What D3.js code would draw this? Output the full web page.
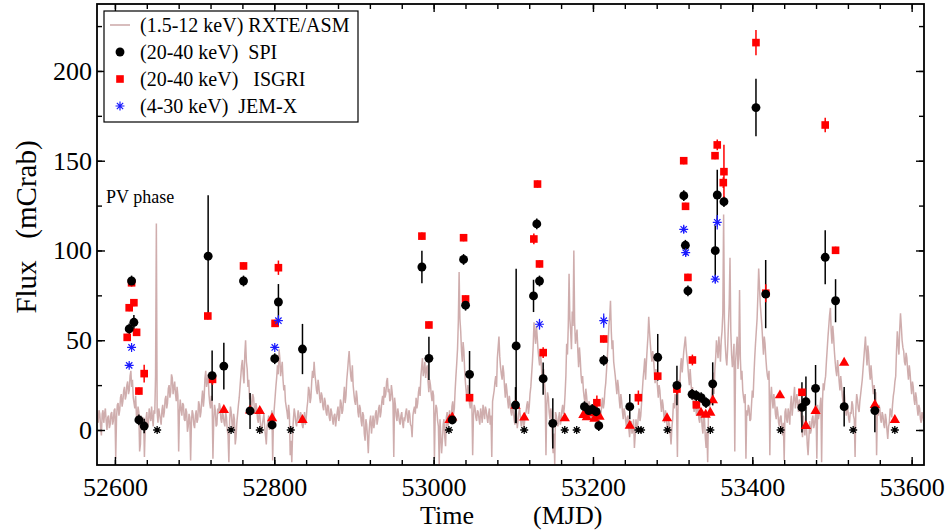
<!DOCTYPE html>
<html>
<head>
<meta charset="utf-8">
<script src="https://cdn.jsdelivr.net/npm/d3@7"></script>
<style>
  html, body { margin: 0; padding: 0; background: #fff; }
  svg { display: block; }
  text { font-family: "Liberation Serif", "Times New Roman", serif; fill: #000; }
</style>
</head>
<body>
<svg id="chart" width="946" height="532"></svg>
<script>
// ---- RXTE/ASM daily light curve (1.5-12 keV), one value per day from MJD 52576 ----
const asmStart = 52576;
const asmStep = 1;
const asmFlux = [
  15,12,6,4,11,9,2,-3,9,11,4,9,12,5,0,7,8,1,3,9,
  10,3,5,11,12,-16,7,14,15,8,11,18,20,13,16,22,24,17,19,25,
  27,20,22,30,33,24,28,18,15,12,19,8,6,13,10,-12,-8,8,4,2,
  7,-15,1,6,10,2,3,12,8,5,13,7,2,11,9,30,115,10,4,12,
  9,6,3,11,14,7,10,17,19,12,15,23,25,18,21,31,29,20,24,27,
  20,16,24,19,-12,10,17,11,8,15,14,6,5,12,10,-1,2,9,7,-17,
  4,11,9,3,1,8,11,4,6,16,14,7,10,17,22,13,18,29,33,24,
  27,31,20,15,12,19,16,-16,6,14,11,2,3,12,9,15,13,6,4,10,
  8,4,2,10,7,0,-3,-18,5,13,10,3,0,9,6,-8,-4,4,9,14,
  18,24,30,36,39,31,26,42,50,38,34,24,28,17,20,11,14,20,18,12,
  9,15,12,6,4,10,8,1,-2,3,6,9,1,-3,-8,2,5,8,0,4,
  7,11,-17,6,12,18,24,29,36,31,45,40,30,34,38,28,22,25,16,13,
  10,6,14,9,-14,-6,-18,-2,6,12,9,4,2,7,11,6,4,10,8,3,
  1,5,10,3,6,12,16,24,22,15,18,27,33,29,38,31,27,22,20,28,
  24,18,15,21,19,13,11,18,16,10,8,14,13,7,5,12,10,6,3,8,
  9,2,6,10,13,5,8,17,15,9,11,18,24,15,19,28,33,39,44,36,
  30,27,36,25,20,16,14,22,18,10,7,14,12,5,2,10,8,-2,-6,6,
  3,-4,-13,-1,5,8,-2,3,8,1,4,9,11,3,6,12,14,7,10,16,
  19,14,24,18,20,27,29,21,23,16,17,25,21,15,-15,18,14,8,5,12,
  9,5,3,8,10,4,1,7,6,10,12,7,4,11,9,3,2,-4,8,11,
  13,9,18,12,15,21,24,19,30,35,40,30,33,38,29,34,36,27,21,28,
  25,20,16,22,19,-16,8,14,12,5,2,-19,6,-3,-13,-6,3,6,-4,-9,
  7,10,2,6,11,4,5,13,16,9,12,22,30,37,45,60,88,62,55,44,
  38,49,44,33,26,21,18,25,22,15,12,19,16,-14,8,14,12,7,5,11,
  10,6,3,12,9,4,14,10,6,13,11,7,4,9,12,3,8,-15,16,19,
  22,27,30,24,40,46,52,41,35,31,28,36,32,24,18,26,22,16,12,19,
  15,10,8,13,11,6,3,12,9,1,5,10,12,7,2,6,8,1,4,9,
  10,14,16,9,13,20,24,31,38,47,60,54,48,58,52,45,40,36,44,38,
  30,26,34,27,22,-14,14,21,18,10,6,12,9,-4,-13,-2,-19,10,8,4,
  2,7,10,3,5,11,14,9,12,20,30,48,42,58,87,62,55,45,66,58,
  100,60,48,52,56,44,35,46,40,31,26,30,22,18,15,23,19,13,10,16,
  14,9,6,10,12,5,8,15,13,9,5,10,11,7,9,14,18,12,15,22,
  26,33,40,49,58,63,72,55,45,50,38,34,30,25,20,28,24,17,12,20,
  16,10,6,12,10,5,2,7,8,1,-4,3,5,-2,0,6,-10,-3,6,0,
  2,8,12,5,8,15,22,29,34,40,28,37,45,52,63,55,48,42,38,44,
  40,33,26,34,30,24,18,25,22,15,10,17,14,8,4,11,8,2,-2,5,
  3,-2,-8,1,6,15,12,20,18,10,-15,22,28,24,36,40,32,38,44,48,
  52,45,40,36,30,25,34,27,20,24,14,10,18,12,8,15,12,6,4,11,
  9,2,-2,8,6,-4,-10,-1,-18,10,8,17,14,20,25,32,20,34,40,50,
  45,40,52,46,38,50,55,65,120,62,48,40,36,45,58,70,96,55,42,35,
  40,48,-12,38,45,52,34,42,78,40,28,33,22,18,15,20,-16,11,8,14,
  12,5,6,14,22,18,30,40,48,55,62,75,90,80,70,64,58,50,42,52,
  48,40,34,30,28,33,-14,18,24,17,12,20,16,9,6,13,10,4,2,7,
  8,2,-3,4,-17,10,12,6,4,12,9,3,14,19,8,13,18,24,12,16,
  20,14,10,17,14,8,4,-4,8,2,-3,5,2,-8,-14,-5,5,-2,0,6,
  8,1,3,7,10,-16,14,6,9,13,18,-18,15,26,22,27,30,38,45,52,
  58,64,68,55,48,58,52,44,38,33,30,39,34,27,22,30,25,19,15,22,
  18,12,8,14,11,6,4,10,9,16,14,8,6,-15,12,20,17,12,10,16,
  20,24,28,34,40,46,52,43,36,47,42,33,28,36,30,24,20,25,14,21,
  -14,11,8,14,12,6,4,10,8,3,1,9,6,0,-5,2,4,12,10,7,
  14,19,22,27,30,44,55,48,42,56,65,58,50,46,44,38,36,43,40,33,
  28,36,32,25,20,27,24,17,14,21,18,12,8,14,12,6,4,10,8,5
];

// ---- SPI 20-40 keV ----
const spiMjd  = [52617.9, 52620.9, 52623.8, 52630.1, 52636.7, 52717.0, 52722.0, 52736.7, 52761.4, 52769.6,
                 52797.3, 52800.6, 52805.2, 52835.4, 52985.3, 52994.1, 53023.4, 53037.6, 53040.1, 53045.1,
                 53102.8, 53103.6, 53125.4, 53129.5, 53132.9, 53137.5, 53149.6, 53189.3, 53194.7, 53199.0,
                 53204.0, 53207.3, 53213.5, 53246.2, 53281.3, 53305.4, 53314.0, 53316.0, 53319.2, 53324.4,
                 53329.6, 53335.8, 53341.9, 53350.3, 53353.5, 53356.0, 53364.4, 53404.6, 53416.8, 53462.3,
                 53467.3, 53479.4, 53491.5, 53504.5, 53515.3, 53553.8];
const spiFlux = [56.3, 83.0, 60.0, 5.6, 2.2, 96.8, 30.3, 35.6, 83.0, 10.6,
                 2.8, 39.7, 71.3, 45.1, 90.8, 39.9, 5.6, 95.0, 69.5, 31.0,
                 13.9, 46.8, 74.7, 114.8, 83.0, 28.6, 3.7, 13.0, 10.8, 11.5,
                 10.2, 2.4, 38.8, 13.0, 40.5, 24.8, 130.5, 102.9, 77.5, 19.9,
                 19.2, 18.0, 15.3, 25.7, 99.9, 130.9, 127.2, 179.6, 75.7, 12.6,
                 15.8, 23.2, 96.2, 72.0, 13.0, 10.8];
const spiErr  = [3, 3, 4, 3, 4, 34, 14, 13, 3, 10,
                 2, 3, 10, 14, 9, 12, 2, 3, 3, 13,
                 10, 43, 9, 3, 3, 9, 14, 3, 3, 3,
                 3, 3, 3, 7, 13, 11, 3, 3, 3, 3,
                 3, 3, 3, 12, 14, 14, 3, 16, 19, 14,
                 14, 13, 15, 12, 11, 12];

// ---- ISGRI 20-40 keV ----
const isgriMjd  = [52615.4, 52617.9, 52620.9, 52623.8, 52627.2, 52630.1, 52636.7, 52716.6, 52722.5, 52761.4,
                   52801.0, 52805.2, 52985.3, 52994.1, 53037.6, 53040.1, 53045.1, 53125.8, 53130.4, 53132.9,
                   53137.5, 53204.9, 53213.5, 53257.0, 53281.3, 53305.4, 53313.9, 53316.2, 53319.2, 53324.8,
                   53329.8, 53353.2, 53356.0, 53363.6, 53364.4, 53404.6, 53416.9, 53462.3, 53491.5, 53504.5];
const isgriFlux = [51.6, 68.1, 82.0, 70.9, 54.4, 21.7, 31.4, 63.5, 28.2, 91.4,
                   59.4, 90.4, 108.0, 58.5, 107.1, 73.0, 18.0, 106.4, 137.0, 92.5,
                   43.1, 15.2, 50.7, 18.0, 30.0, 22.8, 150.0, 124.6, 85.0, 39.0,
                   14.0, 152.8, 158.8, 137.8, 143.9, 215.8, 76.2, 21.0, 169.9, 100.1];
const isgriErr  = [2, 2, 2, 2, 2, 2, 5, 2, 3, 2,
                   2, 4, 2, 2, 2, 2, 2, 3, 2, 2,
                   3, 4, 2, 4, 2, 3, 2, 2, 2, 3,
                   2, 2, 3, 3, 15, 7, 5, 2, 4, 2];

// ---- ISGRI low-significance points (triangles) ----
const isgriLowMjd  = [52736.7, 52769.6, 52781.8, 52797.3, 52835.4, 53020.0, 53023.4, 53102.8, 53113.7, 53164.6,
                      53188.0, 53192.3, 53198.1, 53201.9, 53208.2, 53246.2, 53293.0, 53335.6, 53341.5, 53347.3,
                      53350.5, 53434.7, 53467.3, 53479.4, 53515.3, 53553.8, 53578.9];
const isgriLowFlux = [11.1, 10.8, 10.6, 6.5, 5.6, 5.6, 7.0, 13.5, 6.9, 6.5,
                      8.4, 7.1, 9.3, 6.3, 7.4, 2.4, 6.5, 9.6, 8.5, 9.6,
                      16.5, 19.3, 2.2, 10.6, 37.5, 13.9, 5.6];

// ---- SPI non-detections (asterisks on the zero line) ----
const spiNullMjd = [52653.0, 52745.8, 52781.8, 52820.7, 53019.2, 53113.7, 53164.6, 53179.6, 53257.0, 53260.4,
                    53293.5, 53347.3, 53435.5, 53526.6, 53578.9];

// ---- JEM-X 4-30 keV ----
const jemxMjd  = [52617.9, 52620.9, 52800.6, 52805.2, 53132.9, 53213.5, 53313.9, 53316.4, 53353.5, 53356.0];
const jemxFlux = [36.0, 46.0, 46.0, 60.9, 58.9, 60.9, 111.8, 98.8, 84.0, 115.7];
const jemxErr  = [1, 1, 1, 3, 3, 4, 2, 2, 2, 4];

// ---- axes ----
const xMajorTicks = [52600, 52800, 53000, 53200, 53400, 53600];
const xMinorTicks = d3.range(52600, 53601, 40);
const yMajorTicks = [0, 50, 100, 150, 200];
const yMinorTicks = d3.range(0, 226, 25);

const legendLabels = [
  "(1.5-12 keV) RXTE/ASM",
  "(20-40 keV)  SPI",
  "(20-40 keV)   ISGRI",
  "(4-30 keV)  JEM-X"
];

// ---------------------------------------------------------------------------
const svg = d3.select("#chart");
const plot = { left: 97, right: 924, top: 4, bottom: 465 };

const x = d3.scaleLinear().domain([52577.5, 53615.5]).range([plot.left, plot.right]);
const y = d3.scaleLinear().domain([-19.5, 237.3]).range([plot.bottom, plot.top]);

const colors = { asm: "#bf9191", spi: "#000", isgri: "#ff0000", jemx: "#1a1aff" };

svg.append("clipPath").attr("id", "plotClip")
  .append("rect")
  .attr("x", plot.left).attr("y", plot.top)
  .attr("width", plot.right - plot.left).attr("height", plot.bottom - plot.top);

const body = svg.append("g").attr("clip-path", "url(#plotClip)");

// ASM light curve
const asm = asmFlux.map((v, i) => ({ t: asmStart + i * asmStep, v }));
body.append("path")
  .datum(asm)
  .attr("fill", "none")
  .attr("stroke", colors.asm)
  .attr("stroke-opacity", 0.75)
  .attr("stroke-width", 1.5)
  .attr("d", d3.line().x(d => x(d.t)).y(d => y(d.v)));

// helpers
function errorBars(g, mjd, flux, err, color, width) {
  g.selectAll(null)
    .data(mjd.map((t, i) => ({ t, v: flux[i], e: err[i] })))
    .join("line")
    .attr("x1", d => x(d.t)).attr("x2", d => x(d.t))
    .attr("y1", d => y(d.v - d.e)).attr("y2", d => y(d.v + d.e))
    .attr("stroke", color).attr("stroke-width", width);
}

// eight-armed star, drawn with strokes
const starSymbol = {
  draw(ctx, size) {
    const r = Math.sqrt(size) / 2;
    const d = r * Math.SQRT1_2;
    ctx.moveTo(-r, 0); ctx.lineTo(r, 0);
    ctx.moveTo(0, -r); ctx.lineTo(0, r);
    ctx.moveTo(-d, -d); ctx.lineTo(d, d);
    ctx.moveTo(-d, d); ctx.lineTo(d, -d);
  }
};

function symbols(g, mjd, flux, type, size, fill, stroke, sw) {
  g.selectAll(null)
    .data(mjd.map((t, i) => ({ t, v: flux[i] })))
    .join("path")
    .attr("transform", d => `translate(${x(d.t)},${y(d.v)})`)
    .attr("d", d3.symbol().type(type).size(size))
    .attr("fill", fill)
    .attr("stroke", stroke)
    .attr("stroke-width", sw);
}

const marks = body.append("g");
errorBars(marks, spiMjd, spiFlux, spiErr, "#000", 1.5);
errorBars(marks, isgriMjd, isgriFlux, isgriErr, colors.isgri, 1.5);
errorBars(marks, jemxMjd, jemxFlux, jemxErr, colors.jemx, 1.2);

symbols(marks, spiNullMjd, spiNullMjd.map(() => 0), starSymbol, 64, "none", "#000", 1.3);
symbols(marks, isgriLowMjd, isgriLowFlux, d3.symbolTriangle, 46, colors.isgri, "none", 0);
symbols(marks, isgriMjd, isgriFlux, d3.symbolSquare, 58, colors.isgri, "none", 0);
symbols(marks, spiMjd, spiFlux, d3.symbolCircle, 62, "#000", "none", 0);
symbols(marks, jemxMjd, jemxFlux, starSymbol, 80, "none", colors.jemx, 1.2);

// axes: inward ticks on all four sides
function styleAxis(g) {
  g.select(".domain").remove();
  g.selectAll("line").attr("stroke", "#000").attr("stroke-width", 1.4);
  g.selectAll("text").attr("font-family", "Liberation Serif, serif").attr("font-size", 26).attr("fill", "#000");
}

svg.append("g").attr("transform", `translate(0,${plot.bottom})`)
  .call(d3.axisBottom(x).tickValues(xMajorTicks).tickFormat(d3.format("d")).tickSize(-8).tickPadding(13))
  .call(styleAxis);
svg.append("g").attr("transform", `translate(0,${plot.bottom})`)
  .call(d3.axisBottom(x).tickValues(xMinorTicks).tickFormat("").tickSize(-5))
  .call(styleAxis);
svg.append("g").attr("transform", `translate(0,${plot.top})`)
  .call(d3.axisTop(x).tickValues(xMajorTicks).tickFormat("").tickSize(-8))
  .call(styleAxis);
svg.append("g").attr("transform", `translate(0,${plot.top})`)
  .call(d3.axisTop(x).tickValues(xMinorTicks).tickFormat("").tickSize(-5))
  .call(styleAxis);

svg.append("g").attr("transform", `translate(${plot.left},0)`)
  .call(d3.axisLeft(y).tickValues(yMajorTicks).tickFormat(d3.format("d")).tickSize(-8).tickPadding(5))
  .call(styleAxis);
svg.append("g").attr("transform", `translate(${plot.left},0)`)
  .call(d3.axisLeft(y).tickValues(yMinorTicks).tickFormat("").tickSize(-5))
  .call(styleAxis);
svg.append("g").attr("transform", `translate(${plot.right},0)`)
  .call(d3.axisRight(y).tickValues(yMajorTicks).tickFormat("").tickSize(-8))
  .call(styleAxis);
svg.append("g").attr("transform", `translate(${plot.right},0)`)
  .call(d3.axisRight(y).tickValues(yMinorTicks).tickFormat("").tickSize(-5))
  .call(styleAxis);

// frame
svg.append("rect")
  .attr("x", plot.left).attr("y", plot.top)
  .attr("width", plot.right - plot.left).attr("height", plot.bottom - plot.top)
  .attr("fill", "none").attr("stroke", "#000").attr("stroke-width", 1.8);

// axis titles
const xTitle = svg.append("text").attr("y", 524).attr("font-size", 26);
xTitle.append("tspan").attr("x", 420).text("Time");
xTitle.append("tspan").attr("x", 533).text("(MJD)");

svg.append("text")
  .attr("transform", "translate(36,227) rotate(-90)")
  .attr("text-anchor", "middle")
  .attr("font-size", 29)
  .attr("xml:space", "preserve")
  .style("white-space", "pre")
  .text("Flux   (mCrab)");

// annotation
svg.append("text").attr("x", 106).attr("y", 203).attr("font-size", 18).text("PV phase");

// legend
const lg = svg.append("g");
lg.append("rect").attr("x", 104).attr("y", 11).attr("width", 254).attr("height", 111)
  .attr("fill", "#fff").attr("stroke", "#000").attr("stroke-width", 1.2);
const rowY = [25, 52, 79, 106];
lg.append("line").attr("x1", 110).attr("x2", 130).attr("y1", rowY[0]).attr("y2", rowY[0])
  .attr("stroke", colors.asm).attr("stroke-width", 1.2);
lg.append("path").attr("transform", `translate(120,${rowY[1]})`)
  .attr("d", d3.symbol().type(d3.symbolCircle).size(62)).attr("fill", "#000");
lg.append("path").attr("transform", `translate(120,${rowY[2]})`)
  .attr("d", d3.symbol().type(d3.symbolSquare).size(58)).attr("fill", colors.isgri);
lg.append("path").attr("transform", `translate(120,${rowY[3]})`)
  .attr("d", d3.symbol().type(starSymbol).size(80)).attr("fill", "none")
  .attr("stroke", colors.jemx).attr("stroke-width", 1.2);
lg.selectAll("text.lab").data(legendLabels).join("text")
  .attr("class", "lab")
  .attr("x", 140)
  .attr("y", (d, i) => rowY[i] + 7)
  .attr("font-size", 20)
  .attr("xml:space", "preserve")
  .style("white-space", "pre")
  .text(d => d);
</script>
</body>
</html>
